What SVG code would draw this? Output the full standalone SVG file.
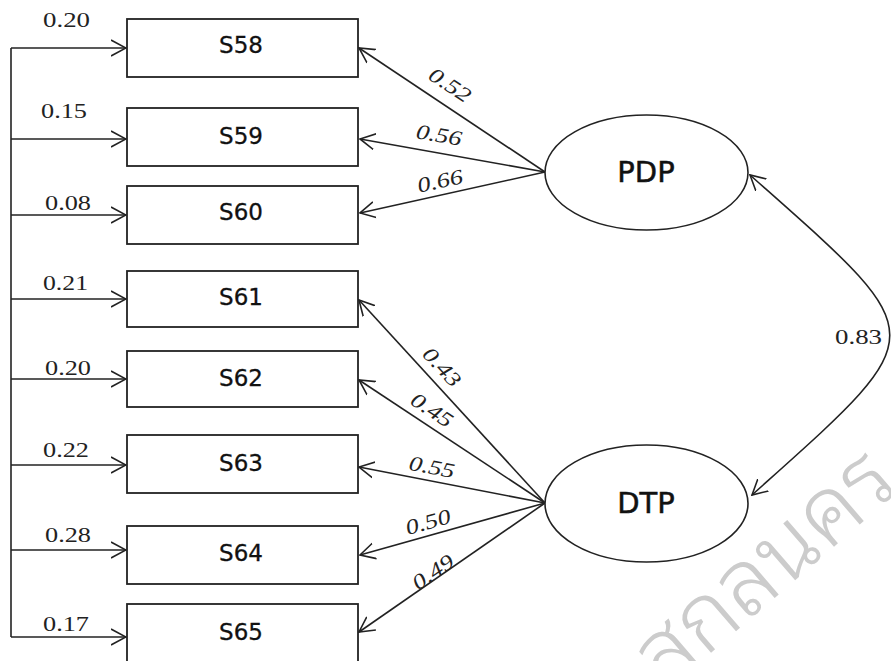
<svg xmlns="http://www.w3.org/2000/svg" width="891" height="661" viewBox="0 0 891 661">
<style>
.box{fill:#fff;stroke:#222;stroke-width:1.8}
.lat{fill:#fff;stroke:#222;stroke-width:1.6}
.lbl{font-family:"DejaVu Sans","Liberation Sans",sans-serif;font-size:23px;fill:#111;stroke:#111;stroke-width:0.3;text-anchor:middle}
.latlbl{font-family:"DejaVu Sans","Liberation Sans",sans-serif;font-size:29px;fill:#111;stroke:#111;stroke-width:0.5;text-anchor:middle}
.num{font-family:"Liberation Serif","Times New Roman",serif;font-size:22px;fill:#222}
.load{font-family:"Liberation Serif","Times New Roman",serif;font-size:21px;font-style:italic;fill:#222;text-anchor:middle}
.edge{fill:none;stroke:#222;stroke-width:1.6}
.wm{font-family:"Noto Sans Thai Looped","Loma","Garuda","Norasi","Noto Sans Thai",sans-serif;font-size:92px;font-weight:300;fill:#cccccc}
</style>
<defs>
<marker id="ah" viewBox="0 0 16 18" refX="15" refY="9" markerWidth="16" markerHeight="18" markerUnits="userSpaceOnUse" orient="auto-start-reverse">
<path d="M0,1 L15,9 L0,17" fill="none" stroke="#222" stroke-width="1.6"/>
</marker>
</defs>
<text class="wm" text-anchor="end" transform="translate(902,488) rotate(-40.8)">สกลนคร</text>
<g id="connectors">
<path class="edge" d="M11,48 V637"/>
<path class="edge" d="M11,48 H126" marker-end="url(#ah)"/>
<path class="edge" d="M11,139 H126" marker-end="url(#ah)"/>
<path class="edge" d="M11,215 H126" marker-end="url(#ah)"/>
<path class="edge" d="M11,299 H126" marker-end="url(#ah)"/>
<path class="edge" d="M11,379 H126" marker-end="url(#ah)"/>
<path class="edge" d="M11,465 H126" marker-end="url(#ah)"/>
<path class="edge" d="M11,550 H126" marker-end="url(#ah)"/>
<path class="edge" d="M11,637 H126" marker-end="url(#ah)"/>
<path class="edge" d="M545,172 L359,48" marker-end="url(#ah)"/>
<path class="edge" d="M545,172 L360,139" marker-end="url(#ah)"/>
<path class="edge" d="M545,172 L360,213" marker-end="url(#ah)"/>
<path class="edge" d="M545,503 L359,300" marker-end="url(#ah)"/>
<path class="edge" d="M545,503 L359,380" marker-end="url(#ah)"/>
<path class="edge" d="M545,503 L359,467" marker-end="url(#ah)"/>
<path class="edge" d="M545,503 L360,555" marker-end="url(#ah)"/>
<path class="edge" d="M545,503 L359,632" marker-end="url(#ah)"/>
<path class="edge" d="M750,175 C936,340 936,330 752,495" marker-start="url(#ah)" marker-end="url(#ah)"/>
<text class="num" x="43" y="27" textLength="47" lengthAdjust="spacingAndGlyphs">0.20</text>
<text class="num" x="41" y="118" textLength="46" lengthAdjust="spacingAndGlyphs">0.15</text>
<text class="num" x="45" y="210" textLength="46" lengthAdjust="spacingAndGlyphs">0.08</text>
<text class="num" x="43" y="290" textLength="45" lengthAdjust="spacingAndGlyphs">0.21</text>
<text class="num" x="45" y="375" textLength="46" lengthAdjust="spacingAndGlyphs">0.20</text>
<text class="num" x="43" y="457" textLength="46" lengthAdjust="spacingAndGlyphs">0.22</text>
<text class="num" x="45" y="542" textLength="46" lengthAdjust="spacingAndGlyphs">0.28</text>
<text class="num" x="43" y="631" textLength="46" lengthAdjust="spacingAndGlyphs">0.17</text>
<text class="load" transform="translate(450,85) rotate(33.5)" y="7" textLength="46" lengthAdjust="spacingAndGlyphs">0.52</text>
<text class="load" transform="translate(439,135) rotate(10)" y="7" textLength="46" lengthAdjust="spacingAndGlyphs">0.56</text>
<text class="load" transform="translate(440,181) rotate(-12.5)" y="7" textLength="46" lengthAdjust="spacingAndGlyphs">0.66</text>
<text class="load" transform="translate(442,367) rotate(47)" y="7" textLength="46" lengthAdjust="spacingAndGlyphs">0.43</text>
<text class="load" transform="translate(432,410) rotate(33.5)" y="7" textLength="46" lengthAdjust="spacingAndGlyphs">0.45</text>
<text class="load" transform="translate(432,467) rotate(11)" y="7" textLength="46" lengthAdjust="spacingAndGlyphs">0.55</text>
<text class="load" transform="translate(428,522) rotate(-15.7)" y="7" textLength="46" lengthAdjust="spacingAndGlyphs">0.50</text>
<text class="load" transform="translate(433,572) rotate(-34.6)" y="7" textLength="46" lengthAdjust="spacingAndGlyphs">0.49</text>
<text class="num" x="835" y="344" textLength="47" lengthAdjust="spacingAndGlyphs">0.83</text>
</g>
<g id="S58"><rect class="box" x="127" y="19" width="231" height="58"/><text class="lbl" x="241" y="53">S58</text></g>
<g id="S59"><rect class="box" x="127" y="108" width="231" height="58"/><text class="lbl" x="241" y="144">S59</text></g>
<g id="S60"><rect class="box" x="127" y="186" width="231" height="58"/><text class="lbl" x="241" y="220">S60</text></g>
<g id="S61"><rect class="box" x="127" y="271" width="231" height="56"/><text class="lbl" x="241" y="305">S61</text></g>
<g id="S62"><rect class="box" x="127" y="351" width="231" height="56"/><text class="lbl" x="241" y="386">S62</text></g>
<g id="S63"><rect class="box" x="127" y="435" width="231" height="58"/><text class="lbl" x="241" y="471">S63</text></g>
<g id="S64"><rect class="box" x="127" y="526" width="231" height="58"/><text class="lbl" x="241" y="561">S64</text></g>
<g id="S65"><rect class="box" x="127" y="604" width="231" height="60"/><text class="lbl" x="241" y="640">S65</text></g>
<g id="PDP"><ellipse class="lat" cx="646.5" cy="172.5" rx="101.5" ry="57.5"/><text class="latlbl" x="646" y="182">PDP</text></g>
<g id="DTP"><ellipse class="lat" cx="646.5" cy="503.5" rx="101.5" ry="58.5"/><text class="latlbl" x="646" y="513">DTP</text></g>
</svg>
